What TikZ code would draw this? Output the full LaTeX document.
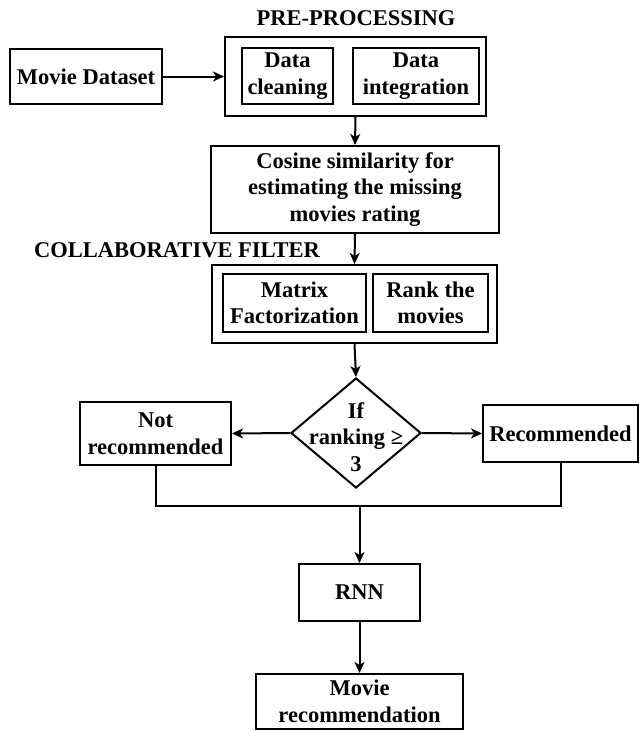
\documentclass[tikz,border=0pt]{standalone}
\usepackage{fontspec}
\setmainfont{LiberationSerif-Regular.ttf}[BoldFont=LiberationSerif-Bold.ttf]
\usetikzlibrary{arrows.meta,shapes.geometric}
\begin{document}
\begin{tikzpicture}[x=1pt,y=-1pt,
  box/.style={draw, line width=2pt, inner sep=0pt, align=center,
    font=\fontsize{22.5}{26.5}\selectfont\bfseries},
  lbl/.style={inner sep=0pt, align=center, font=\fontsize{22.5}{26.5}\selectfont\bfseries},
  arr/.style={line width=2pt, -{Stealth[length=11pt,width=10pt,inset=3pt]}},
  ln/.style={line width=2pt}]
\useasboundingbox (0,0) rectangle (640,731);
% titles
\node[lbl] (tpre) at (356,18) {PRE-PROCESSING};
\node[lbl] (tcf) at (177,250) {COLLABORATIVE FILTER};
% boxes
\node[box, minimum width=152pt, minimum height=55pt] (md) at (86,76.5) {Movie Dataset};
\node[box, minimum width=261pt, minimum height=79pt] (pre) at (355.5,76.5) {};
\node[box, minimum width=91pt, minimum height=56pt] (dc) at (287.5,76) {Data\\cleaning};
\node[box, minimum width=126pt, minimum height=56pt] (di) at (416,76) {Data\\integration};
\node[box, minimum width=288pt, minimum height=87pt] (cos) at (355,189.5) {Cosine similarity for\\estimating the missing\\movies rating};
\node[box, minimum width=285pt, minimum height=78pt] (cf) at (354.5,304) {};
\node[box, minimum width=143pt, minimum height=58pt] (mf) at (294.5,303) {Matrix\\Factorization};
\node[box, minimum width=115pt, minimum height=58pt] (rk) at (430.5,303) {Rank the\\movies};
\node[diamond, draw, line width=2pt, inner sep=0pt, minimum width=130pt, minimum height=110pt] (dec) at (356,433) {};
\node[lbl] (dect) at (356,437) {If\\ranking ≥\\3};
\node[box, minimum width=151pt, minimum height=63pt] (nr) at (155.5,433.5) {Not\\recommended};
\node[box, minimum width=155pt, minimum height=57pt] (rec) at (560.5,433.5) {Recommended};
\node[box, minimum width=121pt, minimum height=57pt] (rnn) at (359.5,592.5) {RNN};
\node[box, minimum width=207pt, minimum height=55pt] (mr) at (359.5,701.5) {Movie\\recommendation};
\coordinate (j) at (359.5,506);
% connectors
\draw[arr] (md.east) -- (pre.west);
\draw[arr] (pre.south) -- (cos.north);
\draw[arr] (cos.south) -- (cf.north);
\draw[arr] (cf.south) -- (dec.north);
\draw[arr] (dec.west) -- (nr.east);
\draw[arr] (dec.east) -- (rec.west);
\draw[ln] (nr.south) |- (j) -| (rec.south);
\draw[arr] (j) -- (rnn.north);
\draw[arr] (rnn.south) -- (mr.north);
\end{tikzpicture}
\end{document}
